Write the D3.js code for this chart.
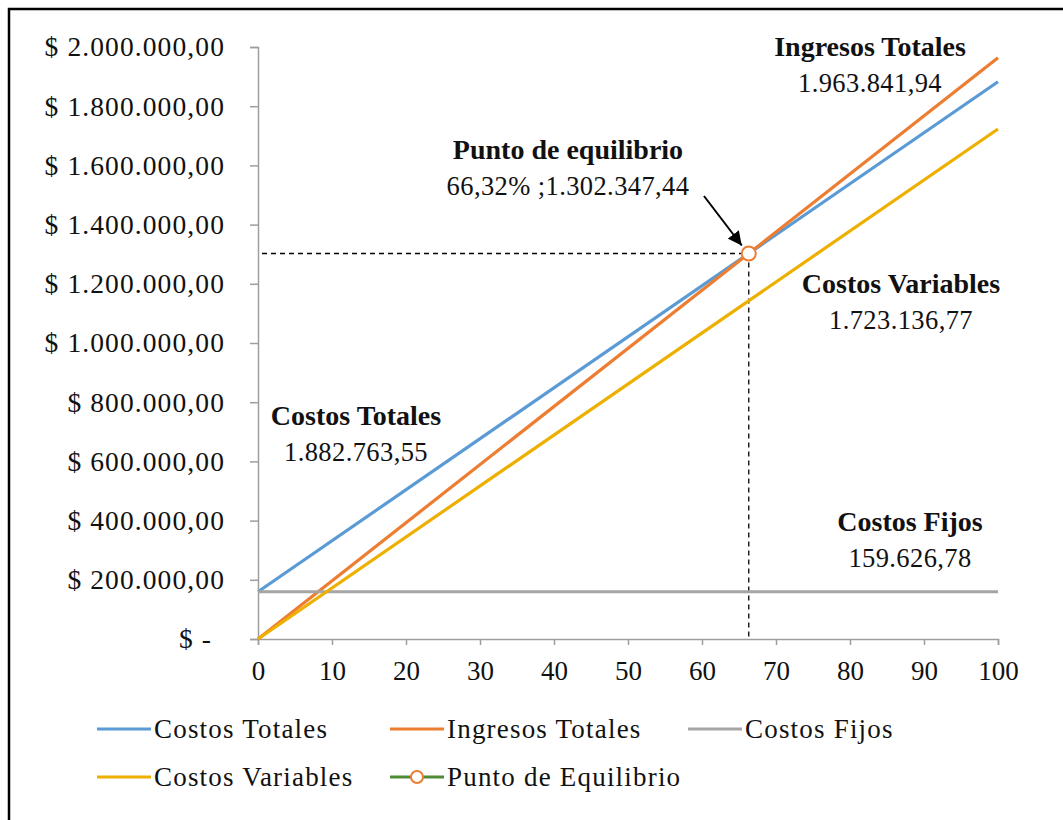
<!DOCTYPE html>
<html>
<head>
<meta charset="utf-8">
<script src="https://cdn.jsdelivr.net/npm/d3@7/dist/d3.min.js"></script>
<style>
  html, body { margin: 0; padding: 0; background: #fff; }
  svg { display: block; }
  text { font-family: "Liberation Serif", "Times New Roman", serif; fill: #111; }
</style>
</head>
<body>
<svg id="chart" width="1063" height="820"></svg>
<script>
// Nivel de actividad (%) en los extremos del rango
const nivelActividad = [0, 100];

// Series ($) en cada extremo
const costosTotales   = [159626.78, 1882763.55];
const ingresosTotales = [0, 1963841.94];
const costosFijos     = [159626.78, 159626.78];
const costosVariables = [0, 1723136.77];

// Punto de equilibrio
const equilibrioPct   = [66.32];
const equilibrioValor = [1302347.44];

// Marcas de los ejes
const yTicks = [0, 200000, 400000, 600000, 800000, 1000000, 1200000, 1400000, 1600000, 1800000, 2000000];
const xTicks = [0, 10, 20, 30, 40, 50, 60, 70, 80, 90, 100];

const seriesNames  = ["Costos Totales", "Ingresos Totales", "Costos Fijos", "Costos Variables", "Punto de Equilibrio"];
const seriesColors = ["#5B9BD5", "#ED7D31", "#A5A5A5", "#EDB000", "#4F8A35"];

const es = d3.formatLocale({ decimal: ",", thousands: ".", grouping: [3], currency: ["$ ", ""] });
const fmt = es.format(",.2f");

const svg = d3.select("#chart");

// Marco exterior
svg.append("rect")
  .attr("x", 9).attr("y", 9).attr("width", 1200).attr("height", 1000)
  .attr("fill", "none").attr("stroke", "#000").attr("stroke-width", 2.5);

const x = d3.scaleLinear().domain([0, 100]).range([258, 998]);
const y = d3.scaleLinear().domain([0, 2000000]).range([639, 47]);

const axisColor = "#9E9E9E";

// Eje Y
const gy = svg.append("g").attr("transform", `translate(${x(0)},0)`)
  .call(d3.axisLeft(y).tickValues(yTicks).tickSize(8).tickPadding(25)
    .tickFormat(d => d === 0 ? "$ -" : "$ " + fmt(d)));
gy.select(".domain").attr("stroke", axisColor).attr("stroke-width", 1.5);
gy.selectAll(".tick line").attr("stroke", axisColor).attr("stroke-width", 1.5);
gy.selectAll(".tick text").attr("font-size", 27.5).attr("letter-spacing", 1.1)
  .attr("font-family", "Liberation Serif").attr("fill", "#111");
gy.selectAll(".tick text").filter(d => d === 0).attr("dx", -13);

// Eje X
const gx = svg.append("g").attr("transform", `translate(0,${y(0)})`)
  .call(d3.axisBottom(x).tickValues(xTicks).tickSize(6).tickPadding(10));
gx.select(".domain").attr("stroke", axisColor).attr("stroke-width", 1.5);
gx.selectAll(".tick line").attr("stroke", axisColor).attr("stroke-width", 1.5);
gx.selectAll(".tick text").attr("font-size", 27).attr("y", 41).attr("dy", 0)
  .attr("font-family", "Liberation Serif").attr("fill", "#111");

// Líneas de referencia del punto de equilibrio
const bx = x(equilibrioPct[0]), by = y(equilibrioValor[0]);
svg.append("line")
  .attr("x1", x(0) + 4).attr("y1", by).attr("x2", bx).attr("y2", by)
  .attr("stroke", "#000").attr("stroke-width", 1.3).attr("stroke-dasharray", "5,4");
svg.append("line")
  .attr("x1", bx).attr("y1", by).attr("x2", bx).attr("y2", y(0))
  .attr("stroke", "#000").attr("stroke-width", 1.3).attr("stroke-dasharray", "5,4");

// Series
const line = d3.line().x((d, i) => x(nivelActividad[i])).y(d => y(d));
[costosTotales, ingresosTotales, costosFijos, costosVariables].forEach((s, i) => {
  svg.append("path").datum(s)
    .attr("d", line)
    .attr("fill", "none")
    .attr("stroke", seriesColors[i])
    .attr("stroke-width", 3.2);
});

// Marcador del punto de equilibrio
svg.append("g").selectAll("circle")
  .data(equilibrioPct)
  .join("circle")
  .attr("cx", (d) => x(d))
  .attr("cy", (d, i) => y(equilibrioValor[i]))
  .attr("r", 7)
  .attr("fill", "#fff")
  .attr("stroke", seriesColors[1])
  .attr("stroke-width", 2);

// Flecha hacia el punto
svg.append("defs").append("marker")
  .attr("id", "punta").attr("viewBox", "0 0 10 10")
  .attr("refX", 10).attr("refY", 5)
  .attr("markerWidth", 7).attr("markerHeight", 7)
  .attr("markerUnits", "strokeWidth")
  .attr("orient", "auto")
  .append("path").attr("d", "M0,0 L10,5 L0,10 Z").attr("fill", "#000");
svg.append("line")
  .attr("x1", 704).attr("y1", 196).attr("x2", bx - 7).attr("y2", by - 8)
  .attr("stroke", "#000").attr("stroke-width", 2)
  .attr("marker-end", "url(#punta)");

// Etiquetas de valores
function etiqueta(cx, y1, titulo, valor) {
  svg.append("text").attr("x", cx).attr("y", y1).attr("text-anchor", "middle")
    .attr("font-size", 28).attr("font-weight", "bold").text(titulo);
  svg.append("text").attr("x", cx).attr("y", y1 + 36).attr("text-anchor", "middle")
    .attr("font-size", 26.5).attr("letter-spacing", 0.4).text(valor);
}
etiqueta(870, 56, "Ingresos Totales", fmt(ingresosTotales[1]));
etiqueta(568, 159, "Punto de equilibrio", es.format(",.2f")(equilibrioPct[0]) + "% ;" + fmt(equilibrioValor[0]));
etiqueta(901, 293, "Costos Variables", fmt(costosVariables[1]));
etiqueta(356, 425, "Costos Totales", fmt(costosTotales[1]));
etiqueta(910, 531, "Costos Fijos", fmt(costosFijos[1]));

// Leyenda
const legendPos = [
  { lx: 97,  ly: 729 }, { lx: 390, ly: 729 }, { lx: 688, ly: 729 },
  { lx: 97,  ly: 777 }, { lx: 390, ly: 777 }
];
const lg = svg.append("g");
seriesNames.forEach((name, i) => {
  const p = legendPos[i];
  const g = lg.append("g").attr("transform", `translate(${p.lx},${p.ly})`);
  g.append("line").attr("x1", 0).attr("x2", 54).attr("y1", 0).attr("y2", 0)
    .attr("stroke", seriesColors[i]).attr("stroke-width", 3.2);
  if (i === 4) {
    g.append("circle").attr("cx", 27).attr("cy", 0).attr("r", 6)
      .attr("fill", "#fff").attr("stroke", seriesColors[1]).attr("stroke-width", 2);
  }
  g.append("text").attr("x", 57).attr("y", 0).attr("dy", "0.33em")
    .attr("font-size", 27).attr("letter-spacing", 1.2).text(name);
});
</script>
</body>
</html>
